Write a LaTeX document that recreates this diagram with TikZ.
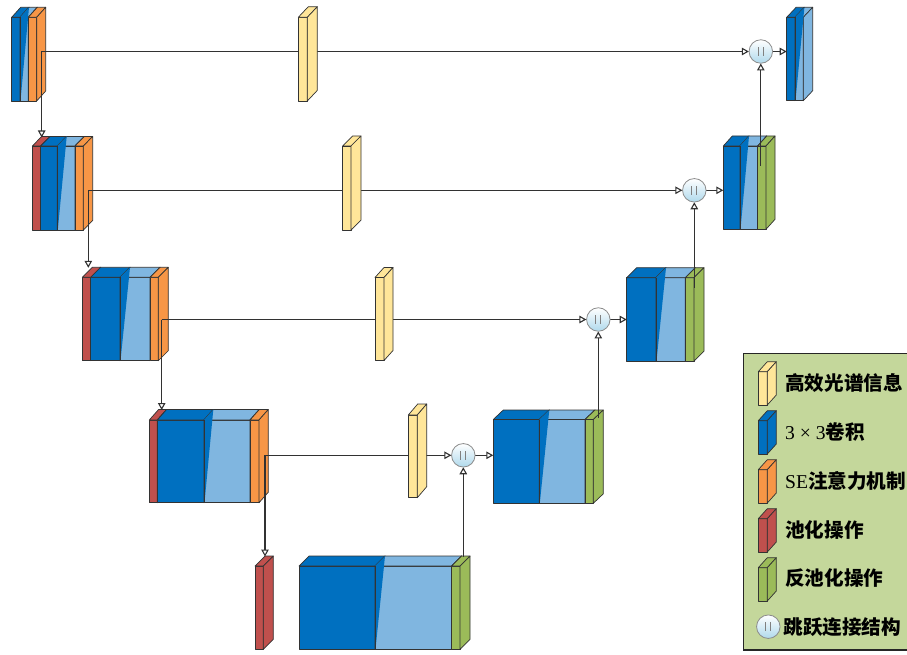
\documentclass[tikz,border=0pt]{standalone}
\usepackage{fontspec}
\setmainfont{Liberation Serif}
\newfontfamily\cjk{Noto Sans CJK SC}
\usetikzlibrary{arrows.meta}
\definecolor{cblue}{RGB}{0,112,192}
\definecolor{clb}{RGB}{128,182,224}
\definecolor{corg}{RGB}{247,150,70}
\definecolor{cred}{RGB}{192,80,77}
\definecolor{cgrn}{RGB}{155,187,89}
\definecolor{cyel}{RGB}{255,230,153}
\definecolor{cleg}{RGB}{196,215,155}
\definecolor{cline}{RGB}{50,50,50}
\definecolor{ccirc}{RGB}{175,217,236}
\tikzset{
  edge/.style={draw=black!80, line width=0.7pt, line join=round},
  conn/.style={draw=cline, line width=1.1pt},
  arr/.style={-{Triangle[open, length=7pt, width=7.5pt, fill=white]}},
  cat/.style={circle, minimum size=23.5pt, inner sep=0pt, draw=black!45, line width=0.8pt,
    top color=white, bottom color=ccirc,
    path picture={
      \draw[black!50, line width=0.8pt] ([xshift=-2.5pt,yshift=-4.5pt]path picture bounding box.center) -- ++(0,9pt);
      \draw[black!50, line width=0.8pt] ([xshift=2.5pt,yshift=-4.5pt]path picture bounding box.center) -- ++(0,9pt);}},
  legtext/.style={anchor=west, inner sep=0pt, font=\fontsize{19.6}{20}\selectfont}
}
% cuboid: x0, x1, front top, front bottom, dx, dy, colour
\newcommand\cub[7]{%
  \filldraw[fill=#7, edge] (#1,#3) rectangle (#2,#4);
  \filldraw[fill=#7, edge] (#1,#3) -- (#1+#5,#3-#6) -- (#2+#5,#3-#6) -- (#2,#3) -- cycle;
  \filldraw[fill=#7, edge] (#2,#3) -- (#2+#5,#3-#6) -- (#2+#5,#4-#6) -- (#2,#4) -- cycle;
}
% light blue cuboid with the blue shadow of the layer in front of it
\newcommand\lbcub[6]{%
  \cub{#1}{#2}{#3}{#4}{#5}{#6}{clb}
  \fill[cblue] (#1,#3) -- (#1+#5,#3-#6) -- (#1+0.5,#4) -- cycle;
  \draw[edge] (#1,#3) -- (#1,#4);
}
\begin{document}
\begin{tikzpicture}[x=1pt, y=-1pt]
\useasboundingbox (0,0) rectangle (907,655);
\fill[white] (0,0) rectangle (907,655);

% ---------- encoder ----------
\cub{11.7}{20}{17.3}{101}{9}{10}{cblue}
\lbcub{20}{28.3}{17.3}{101}{9}{10}
\cub{28.3}{36.7}{17.3}{101}{9}{10}{corg}

\cub{32.3}{40.7}{146}{230}{9.4}{9.5}{cred}
\cub{40.7}{57.3}{146}{230}{9.4}{9.5}{cblue}
\lbcub{57.3}{75}{146}{230}{9.4}{9.5}
\cub{75}{83.3}{146}{230}{9.4}{9.5}{corg}

\cub{82.3}{90.7}{277.3}{360.7}{10}{10}{cred}
\cub{90.7}{120}{277.3}{360.7}{10}{10}{cblue}
\lbcub{120}{150}{277.3}{360.7}{10}{10}
\cub{150}{158.3}{277.3}{360.7}{10}{10}{corg}

\cub{149.3}{157.3}{420}{502.7}{9.3}{10.5}{cred}
\cub{157.3}{204}{420}{502.7}{9.3}{10.5}{cblue}
\lbcub{204}{250}{420}{502.7}{9.3}{10.5}
\cub{250}{259}{420}{502.7}{9.3}{10.5}{corg}

\cub{255}{263.3}{566}{649.3}{10}{10}{cred}

% ---------- bottleneck / decoder ----------
\cub{299}{375}{566}{649.3}{10}{10}{cblue}
\lbcub{375}{451.7}{566}{649.3}{10}{10}
\cub{451.7}{460}{566}{649.3}{10}{10}{cgrn}

\cub{493.3}{539.3}{419.5}{503.3}{10}{9.5}{cblue}
\lbcub{539.3}{585}{419.5}{503.3}{10}{9.5}
\cub{585}{593.3}{419.5}{503.3}{10}{9.5}{cgrn}

\cub{626.7}{656}{277.7}{361}{10}{10}{cblue}
\lbcub{656}{685.3}{277.7}{361}{10}{10}
\cub{685.3}{694}{277.7}{361}{10}{10}{cgrn}

\cub{723.3}{740}{146}{229.3}{9}{10}{cblue}
\lbcub{740}{757.7}{146}{229.3}{9}{10}
\cub{757.7}{766}{146}{229.3}{9}{10}{cgrn}

\cub{786.7}{795}{17.3}{100.7}{9.4}{10}{cblue}
\lbcub{795}{803.3}{17.3}{100.7}{9.4}{10}

% ---------- connection points ----------
\coordinate (e1) at (41.7,51.5);  \coordinate (d1) at (41.7,137.5);
\coordinate (e2) at (88.3,190.3); \coordinate (d2) at (88.3,267.8);
\coordinate (e3) at (161.7,319.5);\coordinate (d3) at (161.7,410);
\coordinate (e4) at (265,455.3);  \coordinate (d4) at (265,556.5);
\coordinate (u1) at (760.8,166);
\coordinate (u2) at (694.3,287.7);
\coordinate (u3) at (598.3,418);
\coordinate (u4) at (463.3,557);
\coordinate (b1) at (786.7,51.5);
\coordinate (b2) at (723.3,190.3);
\coordinate (b3) at (626.7,319.5);
\coordinate (b4) at (493.3,455.3);
\path (760.8,51.5) coordinate (p1) (694.3,190.3) coordinate (p2)
      (598.3,319.5) coordinate (p3) (463.3,455.3) coordinate (p4);
\node[circle, minimum size=23.5pt, inner sep=0pt] (c1) at (p1) {};
\node[circle, minimum size=23.5pt, inner sep=0pt] (c2) at (p2) {};
\node[circle, minimum size=23.5pt, inner sep=0pt] (c3) at (p3) {};
\node[circle, minimum size=23.5pt, inner sep=0pt] (c4) at (p4) {};

% ---------- connectors ----------
\foreach \i in {1,2,3,4}{
  \draw[conn, arr] (e\i) -- (d\i);
  \draw[conn, arr] (e\i) -- (c\i.west);
  \draw[conn, arr] (u\i) -- (c\i.south);
  \draw[conn, arr] (c\i.east) -- (b\i);
}

% ---------- spectral blocks (over the skip lines) ----------
\cub{298.3}{307.3}{17.3}{101}{10}{10.6}{cyel}
\cub{342.7}{351}{146}{230}{10}{10}{cyel}
\cub{375}{384}{277.5}{360.5}{9}{10}{cyel}
\cub{408.3}{417.3}{415}{497.7}{9.4}{11}{cyel}

% ---------- concatenation circles ----------
\node[cat] (k1) at (c1) {};
\node[cat] (k2) at (c2) {};
\node[cat] (k3) at (c3) {};
\node[cat] (k4) at (c4) {};

% ---------- legend ----------
\filldraw[fill=cleg, draw=black!85, line width=1.3pt] (743.3,353.3) rectangle (915,650);
\cub{758.3}{767.3}{371.7}{405}{9}{10}{cyel}
\cub{758.3}{767.3}{420.7}{454}{9}{10}{cblue}
\cub{758.3}{767.3}{469.7}{503}{9}{10}{corg}
\cub{758.3}{767.3}{518.7}{552}{9}{10}{cred}
\cub{758.3}{767.3}{567.7}{601}{9}{10}{cgrn}
\node[cat] (lc) at (768.3,626.7) {};
\node[legtext] (t1) at (785,383) {\cjk\bfseries 高效光谱信息};
\node[legtext] (t2) at (785,432.3) {3 × 3{\cjk\bfseries 卷积}};
\node[legtext] (t3) at (785,481) {SE{\cjk\bfseries 注意力机制}};
\node[legtext] (t4) at (785,530) {\cjk\bfseries 池化操作};
\node[legtext] (t5) at (785,578.5) {\cjk\bfseries 反池化操作};
\node[legtext] (t6) at (783.3,627) {\cjk\bfseries 跳跃连接结构};
\end{tikzpicture}
\end{document}
